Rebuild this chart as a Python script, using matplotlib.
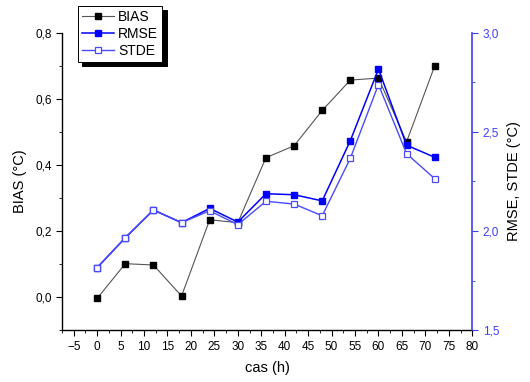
import matplotlib.pyplot as plt
from matplotlib.ticker import MultipleLocator, FuncFormatter

plt.rcParams['font.family'] = ['Liberation Sans', 'DejaVu Sans']

# forecast lead time (h)
hours = [0, 6, 12, 18, 24, 30, 36, 42, 48, 54, 60, 66, 72]
bias = [-0.004, 0.101, 0.097, 0.003, 0.234, 0.225, 0.422, 0.458, 0.565, 0.657, 0.663, 0.470, 0.700]
rmse = [1.815, 1.966, 2.106, 2.042, 2.114, 2.045, 2.188, 2.183, 2.152, 2.456, 2.817, 2.433, 2.372]
stde = [1.815, 1.966, 2.106, 2.042, 2.102, 2.032, 2.150, 2.136, 2.077, 2.367, 2.739, 2.390, 2.264]

blue = '#0000ff'
light_blue = '#4a4aff'
axis_blue = '#3c3cff'

comma = FuncFormatter(lambda v, p: f"{v:.1f}".replace('.', ','))

fig = plt.figure(figsize=(5.3, 3.82), dpi=100)
ax = fig.add_axes([0.117, 0.136, 0.774, 0.778])
ax2 = ax.twinx()

l1, = ax.plot(hours, bias, color='#555555', lw=0.8, marker='s', ms=4.5,
              mfc='black', mec='black', label='BIAS')
l2, = ax2.plot(hours, rmse, color=blue, lw=1.1, marker='s', ms=4.5,
               mfc=blue, mec=blue, label='RMSE')
l3, = ax2.plot(hours, stde, color=light_blue, lw=1.0, marker='s', ms=4.5,
               mfc='white', mec=light_blue, mew=0.9, label='STDE')

ax.set_xlim(-7.5, 80)
ax.set_ylim(-0.1, 0.8)
ax2.set_ylim(1.5, 3.0)

ax.xaxis.set_major_locator(MultipleLocator(5))
ax.xaxis.set_minor_locator(MultipleLocator(2.5))
ax.yaxis.set_major_locator(MultipleLocator(0.2))
ax.yaxis.set_minor_locator(MultipleLocator(0.1))
ax.yaxis.set_major_formatter(comma)
ax2.yaxis.set_major_locator(MultipleLocator(0.5))
ax2.yaxis.set_minor_locator(MultipleLocator(0.25))
ax2.yaxis.set_major_formatter(comma)

for a in (ax, ax2):
    a.spines['top'].set_visible(False)
ax.spines['right'].set_visible(False)
ax2.spines['left'].set_visible(False)
ax2.spines['bottom'].set_visible(False)
ax2.spines['right'].set_color(axis_blue)
ax2.spines['right'].set_linewidth(1.2)
ax.spines['left'].set_linewidth(1.0)
ax.spines['bottom'].set_linewidth(1.0)

ax.tick_params(which='both', direction='out', labelsize=8.5, colors='black')
ax.tick_params(which='major', length=4)
ax.tick_params(which='minor', length=2)
ax.tick_params(axis='x', pad=4)
ax2.tick_params(which='both', direction='out', labelsize=8.5,
                colors=axis_blue, labelcolor=axis_blue)
ax2.tick_params(which='major', length=4)
ax2.tick_params(which='minor', length=2)

ax.set_xlabel('cas (h)', fontsize=10.5, labelpad=6)
ax.set_ylabel('BIAS (°C)', fontsize=10.5, labelpad=6)
ax2.set_ylabel('RMSE, STDE (°C)', fontsize=10.5, labelpad=6)

leg = ax2.legend(handles=[l1, l2, l3], loc='upper left',
                 bbox_to_anchor=(78 / 530, 1 - 6 / 382),
                 bbox_transform=fig.transFigure, borderaxespad=0,
                 fontsize=10, fancybox=False, framealpha=1,
                 edgecolor='black', handlelength=2.3, handletextpad=0.3,
                 borderpad=0.3, labelspacing=0.2,
                 shadow={'color': 'black', 'alpha': 1, 'ox': 3, 'oy': -3})
leg.get_frame().set_linewidth(0.7)

fig.savefig('out.png', dpi=100)
